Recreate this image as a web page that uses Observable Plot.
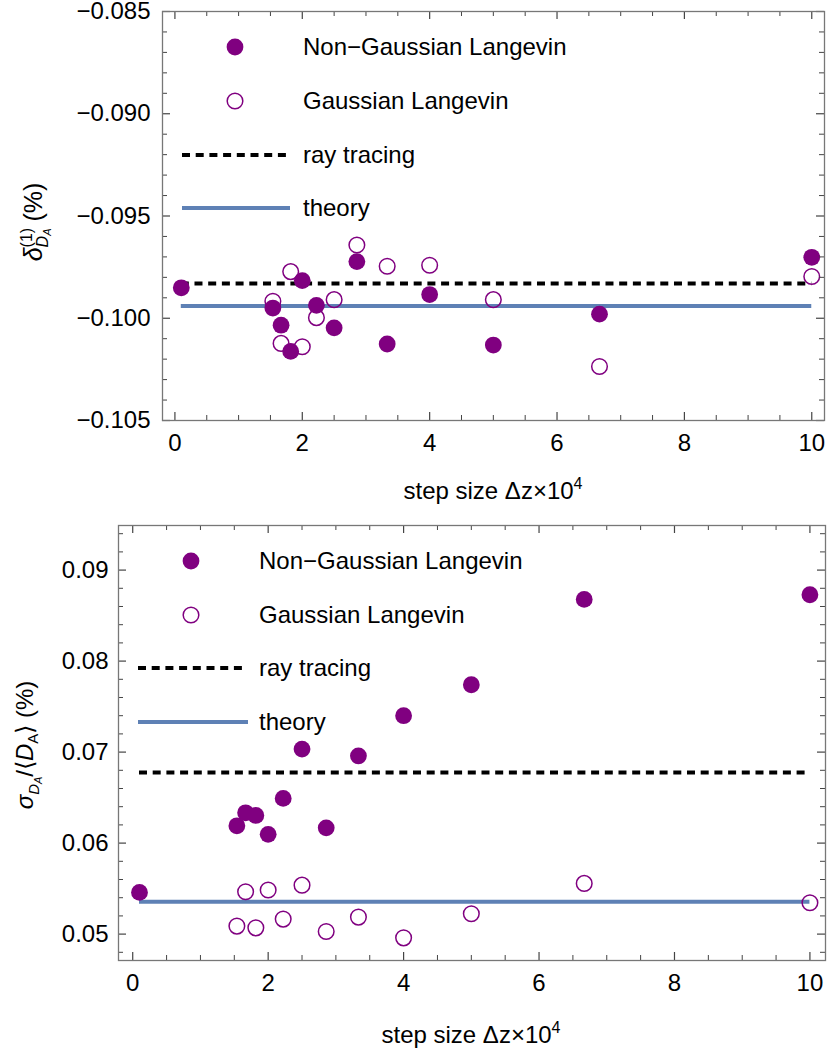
<!DOCTYPE html>
<html><head><meta charset="utf-8">
<script src="https://cdn.jsdelivr.net/npm/d3@7"></script>
<script src="https://cdn.jsdelivr.net/npm/@observablehq/plot@0.6"></script>
<style>
body{margin:0;background:#fff;}
#chart{width:827px;}
svg{display:block;}
</style></head><body><div id="chart"></div>
<script>
// ---- data ----
const steps = [0.1, 1.538, 1.667, 1.818, 2, 2.222, 2.5, 2.857, 3.333, 4, 5, 6.667, 10];
const topNonGauss = [-0.09851, -0.0995, -0.10034, -0.10162, -0.09816, -0.09937, -0.10047, -0.09723, -0.10126, -0.09884, -0.10131, -0.0998, -0.09702];
const topGauss = [null, -0.09917, -0.10123, -0.09772, -0.10139, -0.09997, -0.09909, -0.09642, -0.09746, -0.09741, -0.09909, -0.10236, -0.09796];
const topRayTracing = -0.0983;
const topTheory = -0.0994;
const botNonGauss = [0.05458, 0.0619, 0.06333, 0.06304, 0.06096, 0.06491, 0.07033, 0.06168, 0.06959, 0.0740, 0.0774, 0.08678, 0.08729];
const botGauss = [null, 0.05088, 0.05465, 0.05069, 0.05484, 0.05165, 0.05538, 0.05029, 0.05187, 0.04959, 0.05223, 0.05557, 0.05344];
const botRayTracing = 0.06777;
const botTheory = 0.05355;
const xTicks = [0, 2, 4, 6, 8, 10];
const xMinorTicks = [0.5, 1, 1.5, 2.5, 3, 3.5, 4.5, 5, 5.5, 6.5, 7, 7.5, 8.5, 9, 9.5];
const topYTicks = [-0.105, -0.100, -0.095, -0.090, -0.085];
const topYMinor = [-0.104, -0.103, -0.102, -0.101, -0.099, -0.098, -0.097, -0.096, -0.094, -0.093, -0.092, -0.091, -0.089, -0.088, -0.087, -0.086];
const botYTicks = [0.05, 0.06, 0.07, 0.08, 0.09];
const botYMinor = [0.048, 0.052, 0.054, 0.056, 0.058, 0.062, 0.064, 0.066, 0.068, 0.072, 0.074, 0.076, 0.078, 0.082, 0.084, 0.086, 0.088, 0.092, 0.094];
const legendLabels = ["Non\u2212Gaussian Langevin", "Gaussian Langevin", "ray tracing", "theory"];
const xTitle = "step size \u0394z\u00d710";
const xTitleSup = "4";

// ---- style ----
const PURPLE = "#800080", BLUE = "#5E81B5", FONT = "'Liberation Sans', Arial, sans-serif";

function panel(cfg) {
  const {nonGauss, gauss, ray, theory, width, height, mL, mR, mT, mB, xDomain, yDomain, yTicks, yMinor, yFmt, yPad} = cfg;
  const H = height - mT - mB, W = width - mL - mR;
  const rows = steps.map((s, i) => ({step: s, ng: nonGauss[i], g: gauss[i]}));
  const x1 = d3.min(steps), x2 = d3.max(steps);
  const tickStroke = "#444";
  const svg = Plot.plot({
    width, height, marginLeft: mL, marginRight: mR, marginTop: mT, marginBottom: mB,
    x: {domain: xDomain, axis: null},
    y: {domain: yDomain, axis: null},
    style: {fontFamily: FONT, background: "white", overflow: "visible"},
    marks: [
      Plot.ruleY([ray], {x1, x2, stroke: "black", strokeWidth: 4, strokeDasharray: "8,5.7"}),
      Plot.ruleY([theory], {x1, x2, stroke: BLUE, strokeWidth: 4}),
      Plot.dot(rows.filter(d => d.g != null), {x: "step", y: "g", r: 7.8, stroke: PURPLE, strokeWidth: 1.5, fill: "none"}),
      Plot.dot(rows, {x: "step", y: "ng", r: 8.4, fill: PURPLE, stroke: "none"}),
      // inward frame ticks
      Plot.tickX(xTicks, {x: d => d, insetTop: H - 8, stroke: tickStroke, strokeWidth: 1.2}),
      Plot.tickX(xTicks, {x: d => d, insetBottom: H - 8, stroke: tickStroke, strokeWidth: 1.2}),
      Plot.tickX(xMinorTicks, {x: d => d, insetTop: H - 5, stroke: tickStroke, strokeWidth: 1}),
      Plot.tickX(xMinorTicks, {x: d => d, insetBottom: H - 5, stroke: tickStroke, strokeWidth: 1}),
      Plot.tickY(yTicks, {y: d => d, insetRight: W - 8, stroke: tickStroke, strokeWidth: 1.2}),
      Plot.tickY(yTicks, {y: d => d, insetLeft: W - 8, stroke: tickStroke, strokeWidth: 1.2}),
      Plot.tickY(yMinor, {y: d => d, insetRight: W - 5, stroke: tickStroke, strokeWidth: 1}),
      Plot.tickY(yMinor, {y: d => d, insetLeft: W - 5, stroke: tickStroke, strokeWidth: 1}),
      Plot.frame({stroke: "#777", strokeWidth: 1.3}),
      Plot.axisX(xTicks, {tickSize: 0, tickPadding: 13, fontSize: 24, tickFormat: d => String(d), label: null, fill: "black"}),
      Plot.axisY(yTicks, {tickSize: 0, tickPadding: yPad, fontSize: 24, tickFormat: yFmt, label: null, fill: "black"})
    ]
  });
  return svg;
}

function addLegend(svg, L) {
  const g = d3.select(svg).append("g").attr("font-family", FONT).attr("font-size", 24).attr("text-anchor", "start");
  g.append("circle").attr("cx", L.dotX).attr("cy", L.rows[0]).attr("r", 8.4).attr("fill", PURPLE);
  g.append("circle").attr("cx", L.dotX).attr("cy", L.rows[1]).attr("r", 7.8).attr("fill", "none").attr("stroke", PURPLE).attr("stroke-width", 1.5);
  g.append("line").attr("x1", L.lineX1).attr("x2", L.lineX2a).attr("y1", L.rows[2]).attr("y2", L.rows[2])
    .attr("stroke", "black").attr("stroke-width", 4).attr("stroke-dasharray", "8,5.7");
  g.append("line").attr("x1", L.lineX1).attr("x2", L.lineX2b).attr("y1", L.rows[3]).attr("y2", L.rows[3])
    .attr("stroke", BLUE).attr("stroke-width", 4);
  legendLabels.forEach((t, i) => {
    g.append("text").attr("x", L.textX).attr("y", L.rows[i] + 8).attr("fill", "black").attr("text-anchor", "start").text(t);
  });
}

function addXTitle(svg, cx, baseline) {
  const t = d3.select(svg).append("text").attr("font-family", FONT).attr("font-size", 24)
    .attr("x", cx).attr("y", baseline).attr("text-anchor", "middle").attr("fill", "black");
  t.append("tspan").text(xTitle);
  t.append("tspan").attr("font-size", 16).attr("dy", -10).text(xTitleSup);
}

const root = document.getElementById("chart");

// ---- top panel ----
const topSvg = panel({
  nonGauss: topNonGauss, gauss: topGauss, ray: topRayTracing, theory: topTheory,
  width: 827, height: 510, mL: 162, mR: 3, mT: 11, mB: 90,
  xDomain: [-0.195, 10.2], yDomain: [-0.105, -0.085],
  yTicks: topYTicks, yMinor: topYMinor, yFmt: d3.format(".3f"), yPad: 12
});
addLegend(topSvg, {dotX: 235, rows: [47, 101, 155, 208], lineX1: 182, lineX2a: 290, lineX2b: 290, textX: 303});
addXTitle(topSvg, 493, 499);
{
  const t = d3.select(topSvg).append("text").attr("font-family", FONT).attr("font-size", 25).attr("fill", "black")
    .attr("text-anchor", "middle").attr("transform", "translate(42,222) rotate(-90)");
  t.append("tspan").attr("font-style", "italic").text("\u03b4");
  t.append("tspan").attr("font-size", 16).attr("dy", -10).text("(1)");
  t.append("tspan").attr("font-size", 16).attr("font-style", "italic").attr("dx", -19.5).attr("dy", 16).text("D");
  t.append("tspan").attr("font-size", 11).attr("font-style", "italic").attr("dy", 3).text("A");
  t.append("tspan").attr("dy", -9).text(" (%)");
}
root.appendChild(topSvg);

// ---- bottom panel ----
const botSvg = panel({
  nonGauss: botNonGauss, gauss: botGauss, ray: botRayTracing, theory: botTheory,
  width: 827, height: 543, mL: 118, mR: 2, mT: 15, mB: 93,
  xDomain: [-0.21, 10.23], yDomain: [0.0471, 0.0949],
  yTicks: botYTicks, yMinor: botYMinor, yFmt: d3.format(".2f"), yPad: 10
});
addLegend(botSvg, {dotX: 191, rows: [51, 105, 158, 212], lineX1: 138, lineX2a: 242, lineX2b: 248, textX: 259});
addXTitle(botSvg, 471, 533);
{
  const t = d3.select(botSvg).append("text").attr("font-family", FONT).attr("font-size", 24).attr("fill", "black")
    .attr("text-anchor", "middle").attr("transform", "translate(33,235) rotate(-90)");
  t.append("tspan").attr("font-style", "italic").text("\u03c3");
  t.append("tspan").attr("font-size", 15).attr("font-style", "italic").attr("dy", 6).text("D");
  t.append("tspan").attr("font-size", 11).attr("font-style", "italic").attr("dy", 3).text("A");
  t.append("tspan").attr("dy", -9).text("/\u27e8");
  t.append("tspan").attr("font-style", "italic").text("D");
  t.append("tspan").attr("font-size", 15).attr("dy", 5).text("A");
  t.append("tspan").attr("dy", -5).text("\u27e9 (%)");
}
root.appendChild(botSvg);
</script>
</body></html>
